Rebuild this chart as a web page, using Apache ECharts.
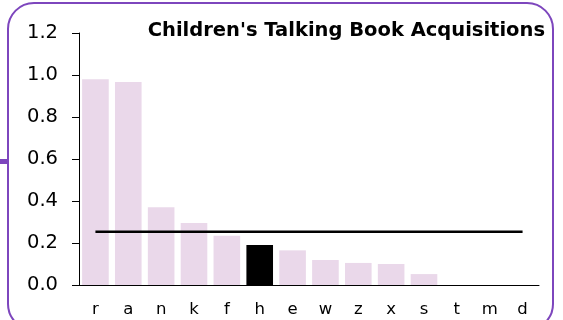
<!DOCTYPE html>
<html><head><meta charset="utf-8">
<script src="https://cdn.jsdelivr.net/npm/echarts@6/dist/echarts.min.js"></script>
<style>html,body{margin:0;padding:0;background:#fff}#c{width:563px;height:320px}</style>
</head><body><div id="c"></div>
<script>
const categories = ['r','a','n','k','f','h','e','w','z','x','s','t','m','d'];
const values = [0.98,0.967,0.37,0.295,0.235,0.19,0.165,0.119,0.105,0.1,0.052,0,0,0];
const highlight = 'h';
const refValue = 0.254;
const yTicks = [0,0.2,0.4,0.6,0.8,1.0,1.2];
const titleText = "Children's Talking Book Acquisitions";

const chart = echarts.init(document.getElementById('c'), null, {renderer:'canvas'});
const font = 'DejaVu Sans';
chart.setOption({
  animation:false,
  title:{text:titleText, right:13, top:16, textStyle:{fontFamily:font,fontWeight:'bold',fontSize:19.5,color:'#000'}},
  grid:{left:79,right:24,top:33,bottom:35},
  xAxis:{type:'category',data:categories,
    axisLine:{lineStyle:{color:'#000',width:1}},axisTick:{show:false},
    axisLabel:{fontFamily:font,fontSize:16.5,color:'#000',margin:16}},
  yAxis:{type:'value',min:yTicks[0],max:yTicks[yTicks.length-1],interval:0.2,
    axisLine:{show:true,lineStyle:{color:'#000',width:1}},
    axisTick:{show:true,length:7,lineStyle:{color:'#000'}},
    splitLine:{show:false},
    axisLabel:{fontFamily:font,fontSize:19.5,color:'#000',margin:21,formatter:v=>v.toFixed(1)}},
  series:[
    {type:'bar',barWidth:'81%',data:values.map((v,i)=>({value:v,itemStyle:{color:categories[i]===highlight?'#000':'#ead8ea'}}))},
    {type:'line',data:categories.map(()=>refValue),symbol:'none',lineStyle:{color:'#000',width:2.5},z:5}
  ],
  graphic:[
    {type:'rect',shape:{x:8,y:3,width:545,height:327,r:26},style:{fill:'none',stroke:'#7d46bd',lineWidth:2},z:-1},
    {type:'rect',shape:{x:0,y:159,width:8,height:5},style:{fill:'#7d46bd'}}
  ]
});
</script></body></html>
